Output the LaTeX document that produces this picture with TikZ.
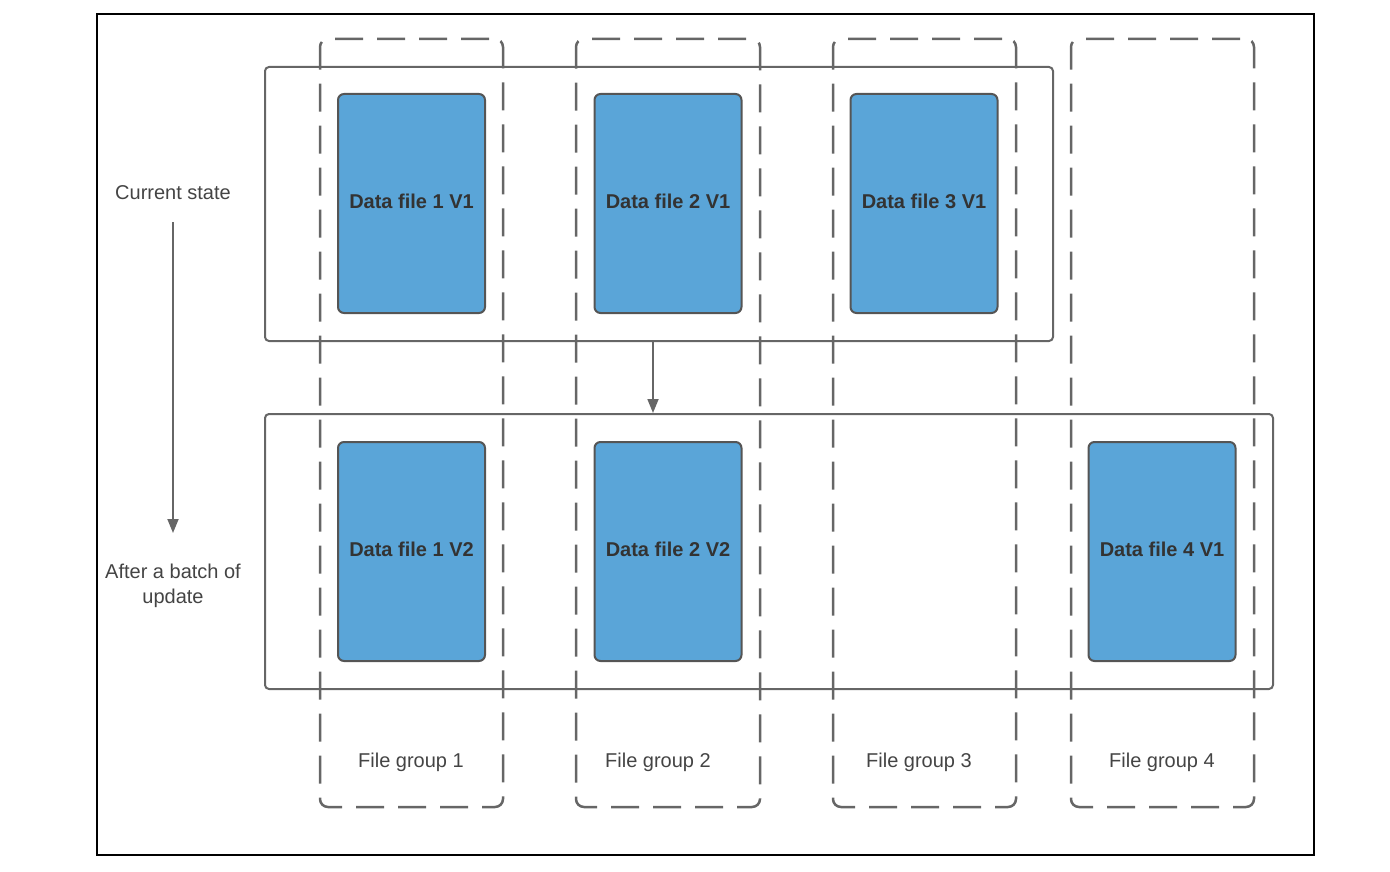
\documentclass[tikz,border=0pt]{standalone}
\usepackage{fontspec}
\setmainfont{Liberation Sans}
\usetikzlibrary{arrows.meta}
\definecolor{bluefill}{HTML}{5AA5D8}
\definecolor{lineg}{HTML}{666666}
\definecolor{boxedge}{HTML}{555555}
\definecolor{txt}{HTML}{333333}
\definecolor{lbl}{HTML}{444444}
\tikzset{
  groupbox/.style={draw=lineg, line width=2.5pt, dash pattern=on 28pt off 14pt, dash phase=-6pt, rounded corners=8pt, inner sep=0pt},
  rowbox/.style={draw=lineg, line width=2pt, rounded corners=4pt, inner sep=0pt},
  datafile/.style={draw=boxedge, fill=bluefill, line width=2pt, rounded corners=6pt, inner sep=0pt,
     minimum width=147pt, minimum height=219pt, text=txt, font=\fontsize{20}{24}\selectfont\bfseries},
  lab/.style={text=lbl, font=\fontsize{20}{25}\selectfont, inner sep=0pt, align=center},
  arr/.style={draw=lineg, line width=1.8pt, -{Triangle[length=14pt,width=11pt]}}
}
\newcommand{\up}[1]{\raisebox{3.5pt}{#1}}
\begin{document}
\begin{tikzpicture}[x=1pt,y=-1pt]
\useasboundingbox (0,0) rectangle (1390,872);
% outer frame
\draw[black, line width=1.2pt] (97,14) rectangle (1314,855);
% row boxes
\node[rowbox, minimum width=788pt, minimum height=274pt] (row1) at (659,204) {};
\node[rowbox, minimum width=1008pt, minimum height=275pt] (row2) at (769,551.5) {};
% file groups
\node[groupbox, minimum width=183pt, minimum height=768pt] (g1) at (411.5,423) {};
\node[groupbox, minimum width=184pt, minimum height=768pt] (g2) at (668,423) {};
\node[groupbox, minimum width=183pt, minimum height=768pt] (g3) at (924.5,423) {};
\node[groupbox, minimum width=183pt, minimum height=768pt] (g4) at (1162.5,423) {};
% data files
\node[datafile] (d11) at (411.5,203.5) {\up{Data file 1 V1}};
\node[datafile] (d21) at (668,203.5) {\up{Data file 2 V1}};
\node[datafile] (d31) at (924,203.5) {\up{Data file 3 V1}};
\node[datafile] (d12) at (411.5,551.5) {\up{Data file 1 V2}};
\node[datafile] (d22) at (668,551.5) {\up{Data file 2 V2}};
\node[datafile] (d42) at (1162,551.5) {\up{Data file 4 V1}};
% labels
\node[lab] (cur) at (173,193) {Current state};
\node[lab] (aft) at (173,586) {After a batch of\\update};
\node[lab] (fg1) at (411,762) {File group 1};
\node[lab] (fg2) at (658,762) {File group 2};
\node[lab] (fg3) at (919,762) {File group 3};
\node[lab] (fg4) at (1162,762) {File group 4};
% arrows
\coordinate (a1) at (173,222);
\coordinate (a2) at (173,533);
\draw[arr] (a1) -- (a2);
\coordinate (b1) at (653,341);
\coordinate (b2) at (653,413);
\draw[arr] (b1) -- (b2);
\end{tikzpicture}
\end{document}
